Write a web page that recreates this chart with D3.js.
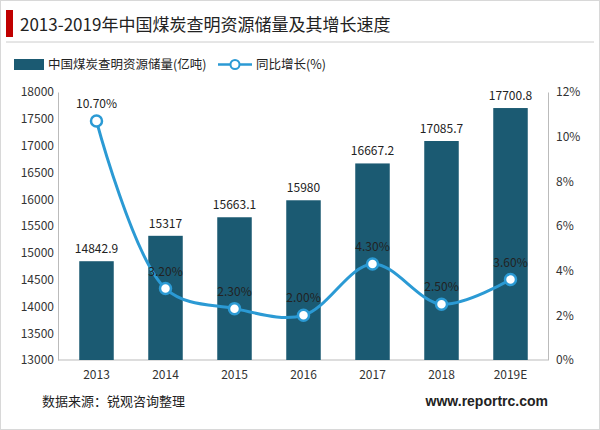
<!DOCTYPE html>
<html><head><meta charset="utf-8">
<script src="https://cdn.jsdelivr.net/npm/d3@7"></script>
<style>body{margin:0;background:#fff}</style>
</head><body>
<script>
const years = ["2013","2014","2015","2016","2017","2018","2019E"];
const reserves = [14842.9, 15317, 15663.1, 15980, 16667.2, 17085.7, 17700.8];
const growth = [10.7, 3.2, 2.3, 2.0, 4.3, 2.5, 3.6];
const leftTicks = d3.range(13000, 18001, 500);
const rightTicks = [0, 2, 4, 6, 8, 10, 12];

const W = 600, H = 430;
const font = "'Noto Sans CJK SC', 'Noto Sans', sans-serif";
const svg = d3.select("body").append("svg").attr("width", W).attr("height", H)
  .style("font-family", font);

svg.append("rect").attr("x", 0.5).attr("y", 0.5).attr("width", W - 1).attr("height", H - 1)
  .attr("fill", "#fff").attr("stroke", "#d8d8d8");

// title
svg.append("rect").attr("x", 6).attr("y", 10).attr("width", 7).attr("height", 27).attr("fill", "#c00000");
svg.append("text").attr("x", 20).attr("y", 31).attr("font-size", 17).attr("fill", "#222")
  .text("2013-2019年中国煤炭查明资源储量及其增长速度");
svg.append("line").attr("x1", 6).attr("x2", 594).attr("y1", 42).attr("y2", 42).attr("stroke", "#ccc");

const x = d3.scaleBand().domain(years).range([62, 545]).paddingInner(0.5).paddingOuter(0.25);
const y = d3.scaleLinear().domain([13000, 18000]).range([360, 92]);
const y2 = d3.scaleLinear().domain([0, 12]).range([360, 92]);

const barColor = "#1b5a72", lineColor = "#2b9ad4";

// legend
svg.append("rect").attr("x", 14).attr("y", 59).attr("width", 30).attr("height", 11).attr("fill", barColor);
svg.append("text").attr("x", 48).attr("y", 69).attr("font-size", 12.5).attr("fill", "#222")
  .text("中国煤炭查明资源储量(亿吨)");
svg.append("line").attr("x1", 218).attr("x2", 252).attr("y1", 64.5).attr("y2", 64.5)
  .attr("stroke", lineColor).attr("stroke-width", 2.5);
svg.append("circle").attr("cx", 235).attr("cy", 64.5).attr("r", 4.5)
  .attr("fill", "#fff").attr("stroke", lineColor).attr("stroke-width", 2);
svg.append("text").attr("x", 256).attr("y", 69).attr("font-size", 12.5).attr("fill", "#222")
  .text("同比增长(%)");

// axes
svg.append("g").attr("transform", "translate(58,0)")
  .call(d3.axisLeft(y).tickValues(leftTicks).tickFormat(d3.format("d")).tickSize(0).tickPadding(4))
  .call(g => g.select(".domain").attr("stroke", "#bbb"))
  .selectAll("text").attr("font-size", 12).attr("fill", "#333").style("font-family", font);
svg.append("g").attr("transform", "translate(548,0)")
  .call(d3.axisRight(y2).tickValues(rightTicks).tickFormat(d => d + "%").tickSize(0).tickPadding(8))
  .call(g => g.select(".domain").attr("stroke", "#bbb"))
  .selectAll("text").attr("font-size", 12).attr("fill", "#333").style("font-family", font);
svg.append("g").attr("transform", "translate(0,360)")
  .call(d3.axisBottom(x).tickSize(0).tickPadding(10))
  .call(g => g.select(".domain").attr("stroke", "#bbb").attr("d", "M58,0H548"))
  .selectAll("text").attr("font-size", 12).attr("fill", "#333").style("font-family", font);

// bars
svg.selectAll(".bar").data(years).enter().append("rect")
  .attr("x", d => x(d)).attr("width", x.bandwidth())
  .attr("y", (d, i) => y(reserves[i])).attr("height", (d, i) => 360 - y(reserves[i]))
  .attr("fill", barColor);
svg.selectAll(".blab").data(years).enter().append("text")
  .attr("x", d => x(d) + x.bandwidth() / 2).attr("y", (d, i) => y(reserves[i]) - 8)
  .attr("text-anchor", "middle").attr("font-size", 12).attr("fill", "#222")
  .text((d, i) => reserves[i]);

// line
const pts = years.map((d, i) => [x(d) + x.bandwidth() / 2, y2(growth[i])]);
svg.append("path").attr("d", d3.line().curve(d3.curveCatmullRom.alpha(0.5))(pts))
  .attr("fill", "none").attr("stroke", lineColor).attr("stroke-width", 3);
svg.selectAll(".dot").data(pts).enter().append("circle")
  .attr("cx", d => d[0]).attr("cy", d => d[1]).attr("r", 5.5)
  .attr("fill", "#fff").attr("stroke", lineColor).attr("stroke-width", 2.5);
svg.selectAll(".glab").data(pts).enter().append("text")
  .attr("x", d => d[0]).attr("y", d => d[1] - 13)
  .attr("text-anchor", "middle").attr("font-size", 12).attr("fill", "#222")
  .text((d, i) => growth[i].toFixed(2) + "%");

// footer
svg.append("text").attr("x", 42).attr("y", 406).attr("font-size", 13).attr("fill", "#222")
  .text("数据来源：锐观咨询整理");
svg.append("text").attr("x", 548).attr("y", 406).attr("text-anchor", "end").attr("font-size", 14)
  .attr("font-weight", "bold").attr("fill", "#222").style("font-family", "Arial, 'Liberation Sans'")
  .text("www.reportrc.com");
</script>
</body></html>
